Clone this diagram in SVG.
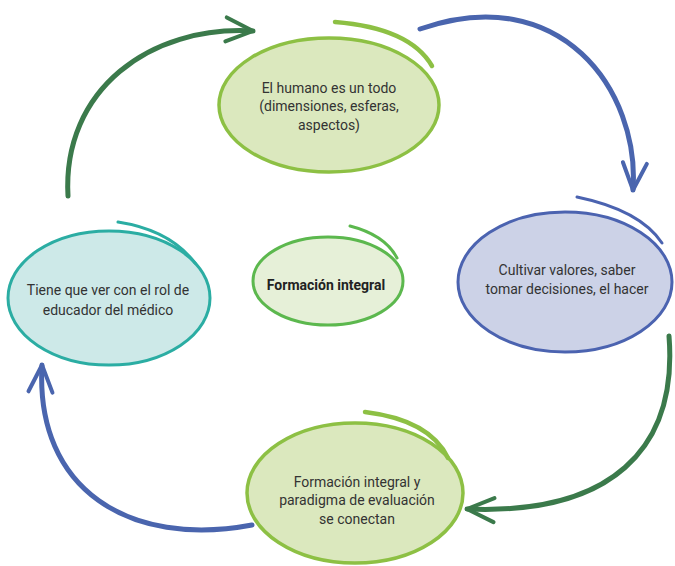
<svg xmlns="http://www.w3.org/2000/svg" width="675" height="566" viewBox="0 0 675 566">
<defs>
<style>
.t{font-family:Roboto,"Liberation Sans",sans-serif;font-size:14px;fill:#333333;text-anchor:middle}
.b{font-weight:bold;fill:#222}
.lg{fill:#dbe8be;stroke:#8dc044;stroke-width:3.5}
.cg{fill:#e6f0d8;stroke:#5cb84e;stroke-width:3}
.bl{fill:#ccd2e7;stroke:#4b63b0;stroke-width:3}
.tl{fill:#cde9e8;stroke:#2bada3;stroke-width:3}
.x{fill:none;stroke-linecap:round}
.ag{fill:none;stroke:#3b7a4b;stroke-width:5;stroke-linecap:round}
.ab{fill:none;stroke:#4a65ae;stroke-width:5;stroke-linecap:round}
</style>
<marker id="hg" markerUnits="userSpaceOnUse" viewBox="-30 -16 34 32" markerWidth="34" markerHeight="32" refX="0" refY="0" orient="auto">
<path d="M -27 -12 L 0 0 L -27 12" fill="none" stroke="#3b7a4b" stroke-width="4" stroke-linecap="round" stroke-linejoin="round"/>
</marker>
<marker id="hb" markerUnits="userSpaceOnUse" viewBox="-30 -16 34 32" markerWidth="34" markerHeight="32" refX="0" refY="0" orient="auto">
<path d="M -27 -12 L 0 0 L -27 12" fill="none" stroke="#4a65ae" stroke-width="4" stroke-linecap="round" stroke-linejoin="round"/>
</marker>
</defs>
<rect width="675" height="566" fill="#ffffff"/>
<g id="connectors">
<path class="ag" d="M 68 196 C 62 90, 150 25, 253 31" marker-end="url(#hg)"/>
<path class="ab" d="M 420 29 C 560 -20, 640 90, 633 190" marker-end="url(#hb)"/>
<path class="ag" d="M 669 336 C 678 450, 610 515, 467 509" marker-end="url(#hg)"/>
<path class="ab" d="M 252 525 C 130 548, 35 490, 42 365" marker-end="url(#hb)"/>
</g>
<g id="node-top">
<ellipse class="lg" cx="329" cy="105" rx="110" ry="67"/>
<path class="x" d="M 335 22 Q 410 28 432 66" stroke="#8dc044" stroke-width="4.5"/>
<text class="t" x="329" y="93">El humano es un todo</text>
<text class="t" x="329" y="111">(dimensiones, esferas,</text>
<text class="t" x="329" y="130">aspectos)</text>
</g>
<g id="node-right">
<ellipse class="bl" cx="565" cy="282" rx="107" ry="70"/>
<path class="x" d="M 577 197 Q 640 210 662 243" stroke="#4b63b0" stroke-width="3"/>
<text class="t" x="567" y="275">Cultivar valores, saber</text>
<text class="t" x="567" y="294">tomar decisiones, el hacer</text>
</g>
<g id="node-left">
<ellipse class="tl" cx="109" cy="298" rx="101" ry="67"/>
<path class="x" d="M 118 222 Q 170 230 195 263" stroke="#2bada3" stroke-width="3"/>
<text class="t" x="108" y="295">Tiene que ver con el rol de</text>
<text class="t" x="108" y="315">educador del médico</text>
</g>
<g id="node-bottom">
<ellipse class="lg" cx="355" cy="493" rx="108" ry="70"/>
<path class="x" d="M 365 412 Q 430 420 448 458" stroke="#8dc044" stroke-width="4.5"/>
<text class="t" x="357" y="487">Formación integral y</text>
<text class="t" x="357" y="505">paradigma de evaluación</text>
<text class="t" x="357" y="524">se conectan</text>
</g>
<g id="node-center">
<ellipse class="cg" cx="328" cy="281" rx="75" ry="44"/>
<path class="x" d="M 350 226 Q 385 235 397 258" stroke="#5cb84e" stroke-width="3"/>
<text class="t b" x="326" y="290">Formación integral</text>
</g>
</svg>
